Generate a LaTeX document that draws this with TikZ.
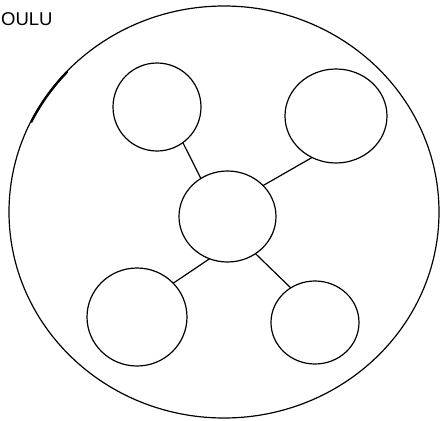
\documentclass[tikz,border=0pt]{standalone}
\usepackage{fontspec}
\setmainfont{Liberation Sans}
\usetikzlibrary{shapes.geometric}
\begin{document}
\begin{tikzpicture}[x=1pt,y=-1pt,
  bubble/.style={ellipse,draw,line width=1.2pt,inner sep=0pt,outer sep=0pt},
  link/.style={line width=1.2pt}]
\useasboundingbox (0,0) rectangle (440,421);
\node[bubble,minimum width=430pt,minimum height=412pt] (oulu) at (224,212) {};
\draw[line width=2.2pt,line cap=round] plot[domain=137:154,samples=24] ({224+214.4*cos(\x)},{212-205.4*sin(\x)});
\node[anchor=base west,inner sep=0pt,font=\fontsize{18.5}{20}\selectfont] (title) at (1,25) {OULU};
\node[bubble,minimum width=88pt,minimum height=88pt] (tl) at (157,107) {};
\node[bubble,minimum width=102pt,minimum height=94pt] (tr) at (336,116) {};
\node[bubble,minimum width=97pt,minimum height=91pt] (c) at (227.5,216.5) {};
\node[bubble,minimum width=100pt,minimum height=98pt] (bl) at (137,317) {};
\node[bubble,minimum width=88pt,minimum height=83pt] (br) at (315,322.5) {};
\draw[link] (tl.306) -- (c.125);
\draw[link] (tr.240) -- (c.41);
\draw[link] (c.247) -- (bl.43);
\draw[link] (c.307) -- (br.125);
\end{tikzpicture}
\end{document}
